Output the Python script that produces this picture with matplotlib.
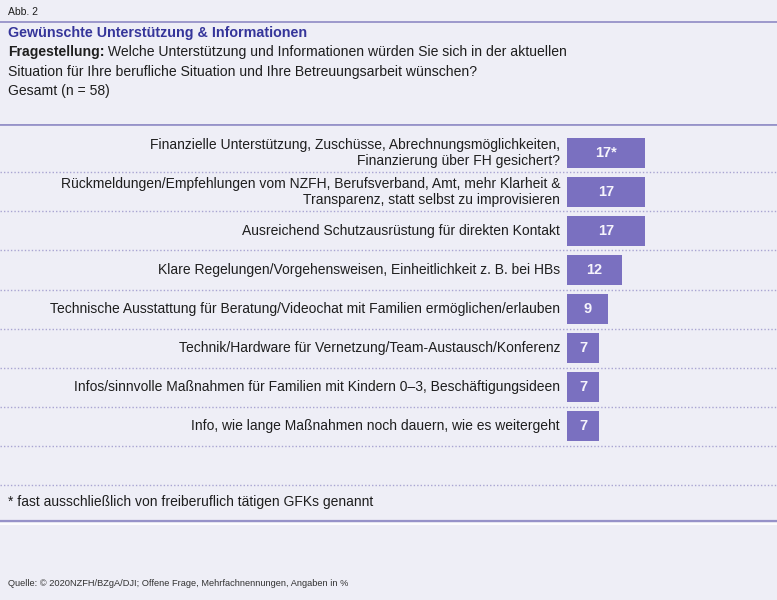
import matplotlib
matplotlib.use("Agg")
import matplotlib.pyplot as plt

plt.rcParams['font.family'] = ['Liberation Sans', 'DejaVu Sans']

categories = [
    "Finanzielle Unterstützung, Zuschüsse, Abrechnungsmöglichkeiten,\nFinanzierung über FH gesichert?",
    "Rückmeldungen/Empfehlungen vom NZFH, Berufsverband, Amt, mehr Klarheit &\nTransparenz, statt selbst zu improvisieren",
    "Ausreichend Schutzausrüstung für direkten Kontakt",
    "Klare Regelungen/Vorgehensweisen, Einheitlichkeit z. B. bei HBs",
    "Technische Ausstattung für Beratung/Videochat mit Familien ermöglichen/erlauben",
    "Technik/Hardware für Vernetzung/Team-Austausch/Konferenz",
    "Infos/sinnvolle Maßnahmen für Familien mit Kindern 0–3, Beschäftigungsideen",
    "Info, wie lange Maßnahmen noch dauern, wie es weitergeht",
]
values = [17, 17, 17, 12, 9, 7, 7, 7]
value_marks = ["*", "", "", "", "", "", "", ""]

fig_title_small = "Abb. 2"
title = "Gewünschte Unterstützung & Informationen"
question_bold = "Fragestellung:"
question_rest = " Welche Unterstützung und Informationen würden Sie sich in der aktuellen"
question_line2 = "Situation für Ihre berufliche Situation und Ihre Betreuungsarbeit wünschen?"
sample = "Gesamt (n = 58)"
footnote = "* fast ausschließlich von freiberuflich tätigen GFKs genannt"
source = "Quelle: © 2020NZFH/BZgA/DJI; Offene Frage, Mehrfachnennungen, Angaben in %"

BG = "#eeeef6"
BAR = "#7a70c0"
LINE = "#9692c8"
DOT = "#a9a5d2"
TITLE = "#35359a"
TXT = "#1e1e1e"

W, H = 777, 600
fig = plt.figure(figsize=(W / 100, H / 100), dpi=100, facecolor=BG)

def fy(py):
    return 1 - py / H

def fx(px):
    return px / W

FS = 10.0

# header
fig.text(fx(8), fy(12), fig_title_small, fontsize=7.5, color=TXT, va="center", ha="left")
fig.add_artist(plt.Line2D([0, 1], [fy(22), fy(22)], color=LINE, lw=1.3))
fig.text(fx(8), fy(33), title, fontsize=10.3, color=TITLE, fontweight="bold", va="center", ha="left")
t1 = fig.text(fx(8), fy(52), question_bold, fontsize=10.1, color=TXT, fontweight="bold", va="center", ha="left")
fig.canvas.draw()
bb = t1.get_window_extent()
fig.text(bb.x1 / W, fy(52), question_rest, fontsize=10.1, color=TXT, va="center", ha="left")
fig.text(fx(8), fy(72), question_line2, fontsize=10.1, color=TXT, va="center", ha="left")
fig.text(fx(8), fy(91), sample, fontsize=10.1, color=TXT, va="center", ha="left")

# main axes spanning full width
px_per_unit = 4.6
bar_left_px = 567
row0_px = 153
row_h = 39
top_px = 124
bot_px = 490
ax = fig.add_axes([0, fy(bot_px), 1, (bot_px - top_px) / H])
ax.set_facecolor("none")
ax.set_xlim(-bar_left_px / px_per_unit, (W - bar_left_px) / px_per_unit)
ax.set_ylim((bot_px - row0_px) / row_h, (top_px - row0_px) / row_h)
for s in ax.spines.values():
    s.set_visible(False)
ax.set_xticks([])
ax.set_yticks([])

ys = list(range(len(values)))
ax.barh(ys, values, height=0.78, left=0, color=BAR, edgecolor="none")

for i, (cat, v, m) in enumerate(zip(categories, values, value_marks)):
    ax.text(-1.5, i, cat, ha="right", va="center", fontsize=FS, color=TXT, linespacing=1.2)
    ax.text(v / 2, i, f"{v}{m}", ha="center", va="center", fontsize=10.5, color="#f6f4fc", fontweight="bold")

# separators
for k in range(len(values) + 1):
    y = k + 0.5
    ax.axhline(y, color=DOT, lw=1.0, ls=(0, (1, 1.5)))
ax.axhline((top_px - row0_px) / row_h, color=LINE, lw=2.0)

# footnote and bottom lines
fig.text(fx(8), fy(502), footnote, fontsize=10.0, color=TXT, va="center", ha="left")
fig.add_artist(plt.Line2D([0, 1], [fy(521), fy(521)], color=LINE, lw=1.6))
fig.add_artist(plt.Line2D([0, 1], [fy(524), fy(524)], color="white", lw=1.2))
fig.text(fx(8), fy(583), source, fontsize=6.7, color="#333333", va="center", ha="left")

fig.savefig("out.png", dpi=100, facecolor=BG)
